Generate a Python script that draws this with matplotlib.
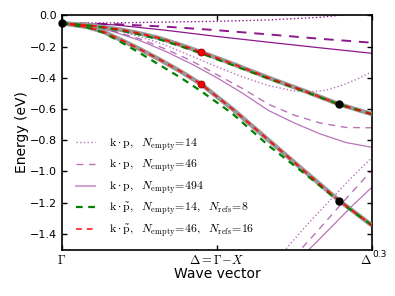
import matplotlib

matplotlib.use("Agg")
import matplotlib.pyplot as plt
import numpy as np

plt.rcParams["mathtext.fontset"] = "cm"
plt.rcParams["font.size"] = 8

# ---- data (wave vector in units of 2pi/a, energy in eV)
# k.p bands, three basis sizes (top group / middle group / lower rising group)
k_top = [0.0, 0.05, 0.10, 0.15, 0.20, 0.25, 0.265, 0.30]
e14_top = [-0.05, -0.048, -0.043, -0.038, -0.029, -0.012, -0.002, 0.03]
k_dash_top = [0.0, 0.05, 0.10, 0.15, 0.20, 0.25, 0.30]
e46_top = [-0.05, -0.056, -0.072, -0.095, -0.122, -0.15, -0.175]
e494_top = [-0.05, -0.06, -0.095, -0.135, -0.172, -0.208, -0.243]

k_mid = [0.0, 0.025, 0.05, 0.075, 0.10, 0.125, 0.15, 0.175, 0.20, 0.225, 0.24,
         0.255, 0.27, 0.285, 0.30]
e14_mid = [-0.05, -0.06, -0.09, -0.135, -0.19, -0.26, -0.33, -0.395, -0.45,
           -0.485, -0.49, -0.48, -0.45, -0.41, -0.36]
k_mid2 = [0.0, 0.025, 0.05, 0.075, 0.10, 0.125, 0.15, 0.175, 0.20, 0.225, 0.25,
          0.275, 0.30]
e46_mid = [-0.05, -0.063, -0.10, -0.15, -0.215, -0.29, -0.38, -0.47, -0.57,
           -0.64, -0.69, -0.718, -0.72]
e494_mid = [-0.05, -0.065, -0.105, -0.16, -0.23, -0.31, -0.40, -0.50, -0.61,
            -0.69, -0.76, -0.815, -0.845]

k14_low = [0.21, 0.22, 0.24, 0.26, 0.28, 0.30]
e14_low = [-1.55, -1.47, -1.32, -1.18, -1.04, -0.91]
k46_low = [0.225, 0.23, 0.25, 0.27, 0.30]
e46_low = [-1.55, -1.507, -1.36, -1.21, -0.99]
k494_low = [0.232, 0.238, 0.26, 0.28, 0.30]
e494_low = [-1.55, -1.507, -1.36, -1.225, -1.10]

# reference (grey) and k.p~ bands
k_ref = [0.0, 0.025, 0.04, 0.058, 0.075, 0.095, 0.115, 0.1345, 0.165, 0.20,
         0.235, 0.268, 0.30]
e_heavy = [-0.05, -0.063, -0.075, -0.093, -0.115, -0.147, -0.19, -0.235, -0.31,
           -0.40, -0.485, -0.569, -0.633]
e_light = [-0.05, -0.075, -0.105, -0.16, -0.215, -0.285, -0.36, -0.44, -0.60,
           -0.80, -1.0, -1.186, -1.346]
e_heavy_14 = [-0.05, -0.064, -0.078, -0.098, -0.122, -0.155, -0.198, -0.243,
              -0.318, -0.405, -0.488, -0.570, -0.633]
e_light_14 = [-0.05, -0.078, -0.11, -0.175, -0.24, -0.32, -0.40, -0.485, -0.63,
              -0.835, -1.015, -1.19, -1.346]

# fitting points
k_fit_black = [0.0, 0.268, 0.268]
e_fit_black = [-0.05, -0.569, -1.186]
k_fit_red = [0.1345, 0.1345]
e_fit_red = [-0.235, -0.44]

xtick_pos = [0.0, 0.15, 0.30]
xtick_lab = [r"$\Gamma$", r"$\Delta=\Gamma\!-\!X$", r"$\Delta$"]

PURPLE = "#800080"

fig = plt.figure(figsize=(3.95, 2.96), dpi=100)
ax = fig.add_axes([0.157, 0.157, 0.785, 0.791])

# grey reference bands
for e in (e_heavy, e_light):
    ax.plot(k_ref, e, color="0.6", lw=3.2, solid_capstyle="butt", zorder=3)

# k.p curves
a_dark, a_lite = 0.9, 0.55
ax.plot(k_top, e14_top, color=PURPLE, ls=":", lw=1.0, alpha=a_dark, zorder=2)
ax.plot(k_dash_top, e46_top, color=PURPLE, ls=(0, (5, 4)), lw=1.4, alpha=a_dark, zorder=2)
ax.plot(k_dash_top, e494_top, color=PURPLE, ls="-", lw=0.9, alpha=a_dark, zorder=2)
ax.plot(k_mid, e14_mid, color=PURPLE, ls=":", lw=1.0, alpha=a_lite, zorder=2)
ax.plot(k_mid2, e46_mid, color=PURPLE, ls=(0, (5, 4)), lw=1.0, alpha=a_lite, zorder=2)
ax.plot(k_mid2, e494_mid, color=PURPLE, ls="-", lw=0.9, alpha=a_lite, zorder=2)
ax.plot(k14_low, e14_low, color=PURPLE, ls=":", lw=1.0, alpha=a_lite, zorder=2)
ax.plot(k46_low, e46_low, color=PURPLE, ls=(0, (5, 4)), lw=1.0, alpha=a_lite, zorder=2)
ax.plot(k494_low, e494_low, color=PURPLE, ls="-", lw=0.9, alpha=a_lite, zorder=2)

# k.p~ curves
for e in (e_heavy_14, e_light_14):
    ax.plot(k_ref, e, color="green", ls=(0, (3, 2.5)), lw=1.6, zorder=4)
for e in (e_heavy, e_light):
    ax.plot(k_ref, e, color="red", ls=(1.5, (3, 2.5)), lw=1.4, alpha=0.85, zorder=5)

ax.plot(k_fit_black, e_fit_black, "o", color="black", ms=5, zorder=6, clip_on=False)
ax.plot(k_fit_red, e_fit_red, "o", mfc="red", mec="darkred", mew=0.6, ms=5, zorder=6)

# legend proxies
h = [
    ax.plot([], [], color=PURPLE, ls=":", lw=1.0, alpha=a_lite)[0],
    ax.plot([], [], color=PURPLE, ls=(0, (5, 4)), lw=1.0, alpha=a_lite)[0],
    ax.plot([], [], color=PURPLE, ls="-", lw=1.5, alpha=0.35)[0],
    ax.plot([], [], color="green", ls=(0, (3, 2.5)), lw=1.6)[0],
    ax.plot([], [], color="red", ls=(0, (3, 2.5)), lw=1.4, alpha=0.75)[0],
]
labels = [
    r"$\mathrm{k\cdot p},\ \ N_{\mathrm{empty}}\!=\!14$",
    r"$\mathrm{k\cdot p},\ \ N_{\mathrm{empty}}\!=\!46$",
    r"$\mathrm{k\cdot p},\ \ N_{\mathrm{empty}}\!=\!494$",
    r"$\mathrm{k\cdot \tilde{p}},\ \ N_{\mathrm{empty}}\!=\!14,\ \ N_{\mathrm{refs}}\!=\!8$",
    r"$\mathrm{k\cdot \tilde{p}},\ \ N_{\mathrm{empty}}\!=\!46,\ \ N_{\mathrm{refs}}\!=\!16$",
]
ax.legend(h, labels, loc="lower left", bbox_to_anchor=(0.01, 0.0), frameon=False,
          fontsize=8.5, handlelength=1.6, handletextpad=1.2, labelspacing=0.42)

ax.set_xlim(0, 0.3)
ax.set_ylim(-1.5, 0.0)
ax.set_yticks(np.arange(-1.4, 0.01, 0.2))
ax.set_xticks(xtick_pos)
ax.set_xticklabels(xtick_lab, fontsize=9)
ax.get_xticklabels()[2].set_ha("right")
ax.tick_params(direction="in", top=True, right=True, length=3.5, width=1)
for s in ax.spines.values():
    s.set_linewidth(1.2)
ax.text(1.0, -0.02, "0.3", transform=ax.transAxes, fontsize=6.5, ha="left", va="center")
ax.set_xlabel("Wave vector", fontsize=10, labelpad=0)
ax.set_ylabel("Energy (eV)", fontsize=10, labelpad=1)

fig.savefig("out.png", dpi=100)
